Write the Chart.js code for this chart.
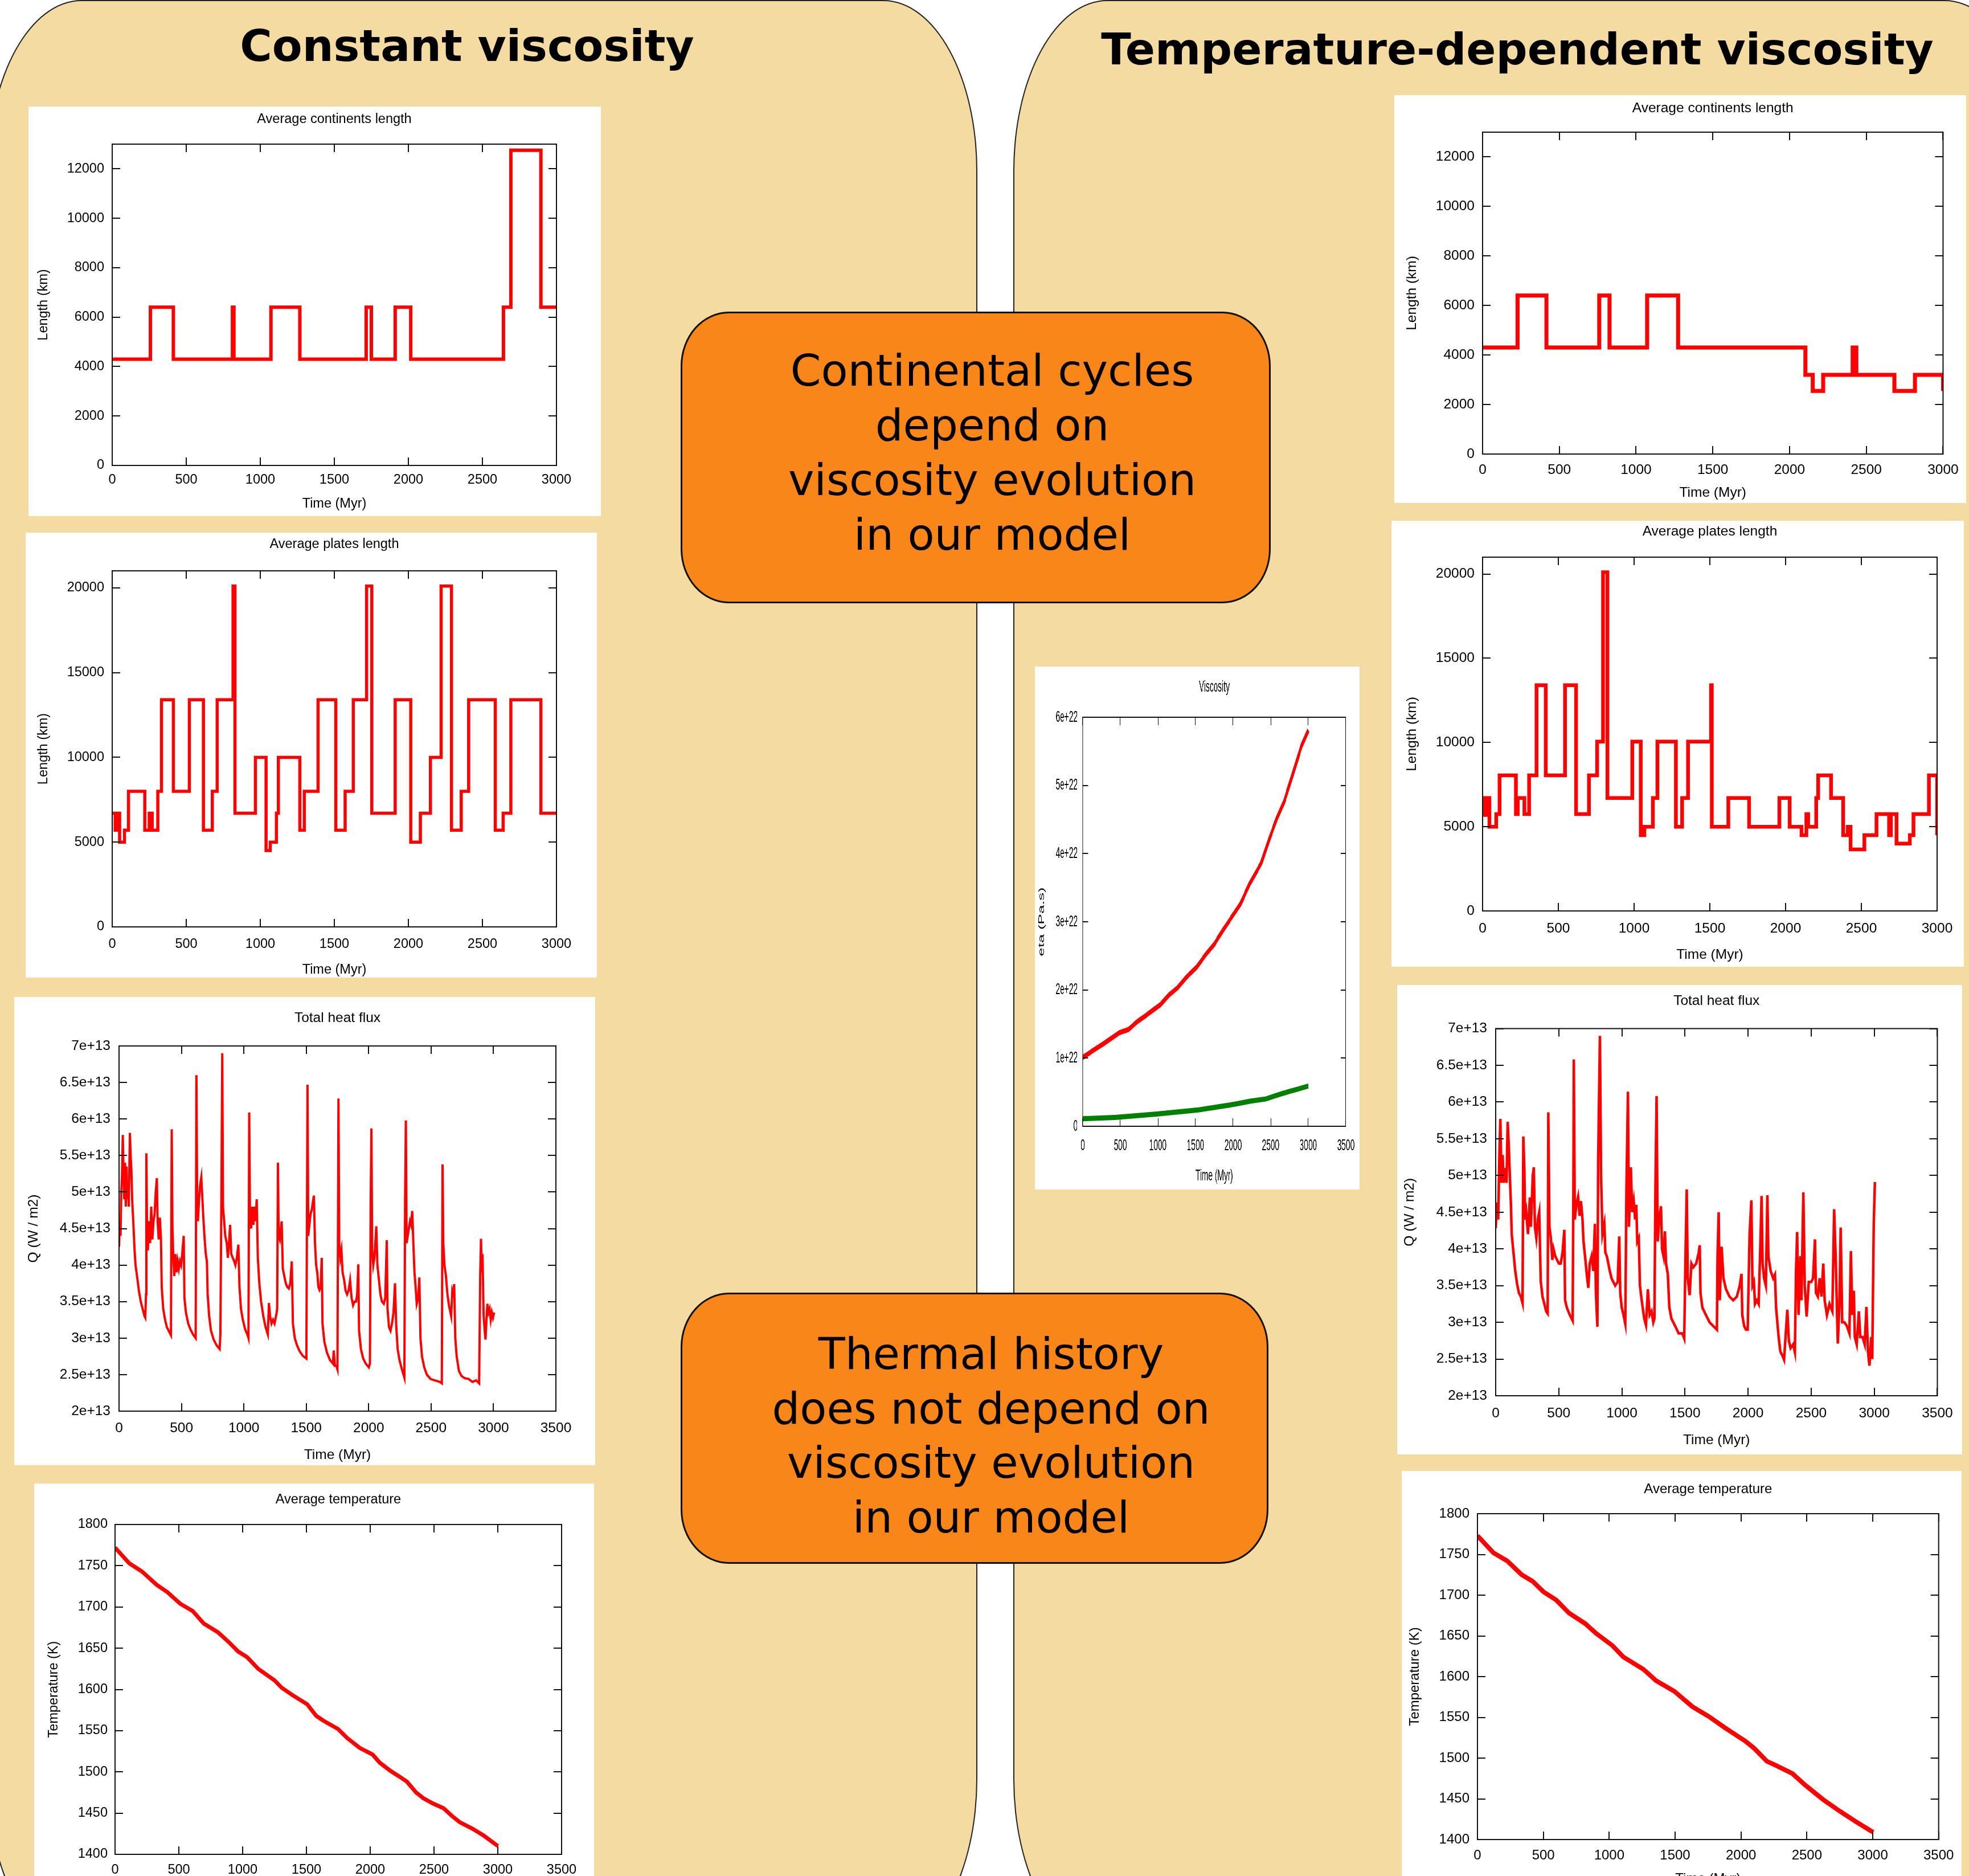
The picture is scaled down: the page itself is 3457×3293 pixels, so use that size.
<!DOCTYPE html>
<html><head><meta charset="utf-8">
<script src="https://cdn.jsdelivr.net/npm/chart.js@4.4.1/dist/chart.umd.min.js"></script>
<style>
html,body{margin:0;padding:0;background:#fff;}
body{width:3457px;height:3293px;overflow:hidden;position:relative;}
.panel{position:absolute;background:#f3dba2;border:2px solid #222;border-radius:165px/300px;box-sizing:border-box;}
.head{position:absolute;font-family:'DejaVu Sans',sans-serif;font-weight:bold;font-size:77px;line-height:77px;text-align:center;color:#000;white-space:nowrap;}
.box{position:absolute;background:#f98619;border:3px solid #111;border-radius:85px/95px;box-sizing:border-box;}
.boxtext{position:absolute;font-family:'DejaVu Sans',sans-serif;font-size:77px;line-height:96px;text-align:center;color:#000;white-space:nowrap;}
.cw{position:absolute;background:#fff;transform-origin:0 0;}
</style></head><body>
<div class="panel" style="left:-22px;top:0;width:1738px;height:3423px;"></div>
<div class="panel" style="left:1779px;top:0;width:1800px;height:3423px;"></div>
<div class="head" style="left:0;top:42px;width:1640px;">Constant viscosity</div>
<div class="head" style="left:1764px;top:48px;width:1800px;">Temperature-dependent viscosity</div>
<script>
// ---------------- DATA ----------------
const xTicks3000 = [0, 500, 1000, 1500, 2000, 2500, 3000];
const xLabels3000 = ['0', '500', '1000', '1500', '2000', '2500', '3000'];
const xTicks3500 = [0, 500, 1000, 1500, 2000, 2500, 3000, 3500];
const xLabels3500 = ['0', '500', '1000', '1500', '2000', '2500', '3000', '3500'];

const contTicks = [0, 2000, 4000, 6000, 8000, 10000, 12000];
const contLabels = ['0', '2000', '4000', '6000', '8000', '10000', '12000'];
const plateTicks = [0, 5000, 10000, 15000, 20000];
const plateLabels = ['0', '5000', '10000', '15000', '20000'];
const heatTicks = [2e13, 2.5e13, 3e13, 3.5e13, 4e13, 4.5e13, 5e13, 5.5e13, 6e13, 6.5e13, 7e13];
const heatLabels = ['2e+13', '2.5e+13', '3e+13', '3.5e+13', '4e+13', '4.5e+13', '5e+13', '5.5e+13', '6e+13', '6.5e+13', '7e+13'];
const tempTicks = [1400, 1450, 1500, 1550, 1600, 1650, 1700, 1750, 1800];
const tempLabels = ['1400', '1450', '1500', '1550', '1600', '1650', '1700', '1750', '1800'];
const viscTicks = [0, 1e22, 2e22, 3e22, 4e22, 5e22, 6e22];
const viscLabels = ['0', '1e+22', '2e+22', '3e+22', '4e+22', '5e+22', '6e+22'];

// Constant viscosity: average continents length (value starts at time t)
const contL_t = [0, 258, 413, 812, 822, 1072, 1267, 1715, 1750, 1911, 2016, 2642, 2692, 2895, 3000];
const contL_v = [4300, 6400, 4300, 6400, 4300, 6400, 4300, 6400, 4300, 6400, 4300, 6400, 12750, 6400, 6400];

// Constant viscosity: average plates length
const platesL_t = [0, 20, 35, 50, 83, 110, 220, 250, 270, 308, 333, 413, 521, 616, 676, 709, 816, 829, 967, 1039, 1067, 1109, 1122, 1267, 1297, 1390, 1510, 1573, 1628, 1718, 1753, 1911, 2016, 2081, 2149, 2221, 2291, 2357, 2407, 2587, 2640, 2692, 2895, 3000];
const platesL_v = [6700, 5700, 6700, 5000, 5700, 8000, 5700, 6700, 5700, 8000, 13400, 8000, 13400, 5700, 8000, 13400, 20100, 6700, 10000, 4500, 5000, 6700, 10000, 5700, 8000, 13400, 5700, 8000, 13400, 20100, 6700, 13400, 5000, 6700, 10000, 20100, 5700, 8000, 13400, 5700, 6700, 13400, 6700, 6700];

// Constant viscosity: total heat flux [time Myr, Q in 1e13 W/m2]
const heatL = [[0,4.25],[6,4.6],[12,4.4],[18,5.0],[24,5.25],[30,5.78],[36,5.3],[42,4.9],[48,5.4],[54,4.8],[60,5.35],[66,4.9],[72,5.1],[78,4.8],[87,5.81],[93,5.5],[99,5.3],[105,4.9],[114,4.6],[123,4.25],[132,4.0],[144,3.85],[159,3.65],[174,3.5],[189,3.4],[204,3.3],[210,3.28],[216,3.6],[219,5.53],[225,4.4],[231,4.2],[240,4.6],[249,4.3],[258,4.8],[267,4.35],[276,4.6],[285,4.7],[294,5.0],[303,5.19],[309,4.6],[318,4.35],[327,4.65],[336,4.35],[342,3.7],[354,3.4],[369,3.25],[383,3.15],[398,3.1],[416,3.04],[422,5.86],[428,4.5],[434,4.15],[443,3.85],[452,4.15],[461,3.9],[470,4.05],[479,3.95],[488,4.05],[497,4.0],[506,4.15],[518,4.4],[524,3.55],[536,3.35],[554,3.2],[572,3.12],[593,3.05],[614,3.0],[620,6.6],[626,4.9],[632,4.6],[641,4.9],[650,5.1],[659,5.2],[668,4.9],[677,4.6],[686,4.35],[695,4.15],[704,4.05],[710,3.6],[722,3.3],[737,3.1],[758,2.98],[782,2.9],[806,2.85],[812,3.05],[821,5.15],[827,6.9],[833,4.8],[842,4.6],[851,4.4],[863,4.3],[872,4.1],[881,4.3],[890,4.55],[899,4.15],[911,4.1],[923,4.05],[932,4.0],[944,4.1],[956,4.28],[965,3.7],[977,3.4],[992,3.25],[1010,3.12],[1028,3.05],[1037,3.0],[1043,6.09],[1049,4.7],[1058,4.5],[1067,4.8],[1076,4.55],[1085,4.8],[1094,4.6],[1103,4.9],[1112,4.1],[1124,3.75],[1138,3.5],[1156,3.3],[1174,3.15],[1192,3.05],[1201,3.48],[1210,3.3],[1222,3.2],[1234,3.25],[1246,3.2],[1261,3.33],[1267,3.4],[1273,5.4],[1279,4.4],[1288,4.35],[1297,4.5],[1303,4.6],[1312,3.95],[1324,3.85],[1336,3.75],[1348,3.7],[1360,3.68],[1372,3.75],[1384,4.05],[1393,3.2],[1408,3.0],[1426,2.9],[1447,2.82],[1471,2.76],[1501,2.72],[1510,6.47],[1516,4.4],[1525,4.55],[1534,4.7],[1543,4.75],[1552,4.85],[1561,4.95],[1570,4.3],[1579,4.0],[1588,3.9],[1597,3.7],[1606,3.66],[1615,3.7],[1624,4.1],[1630,3.2],[1645,2.95],[1666,2.8],[1690,2.7],[1714,2.65],[1720,2.83],[1729,2.62],[1741,2.62],[1750,2.57],[1758,6.28],[1764,4.3],[1773,4.1],[1782,4.2],[1791,3.9],[1803,3.8],[1815,3.65],[1827,3.6],[1839,3.65],[1851,3.79],[1863,3.55],[1875,3.45],[1887,3.5],[1899,3.5],[1908,3.6],[1917,4.01],[1923,3.1],[1938,2.85],[1956,2.72],[1977,2.65],[2001,2.6],[2010,2.65],[2016,4.8],[2022,5.87],[2028,4.2],[2037,4.0],[2046,4.1],[2055,4.35],[2061,4.53],[2070,4.0],[2082,3.8],[2094,3.6],[2106,3.5],[2121,3.47],[2133,3.55],[2145,4.34],[2151,3.4],[2163,3.15],[2175,3.1],[2187,3.2],[2199,3.35],[2211,3.75],[2220,3.2],[2232,2.85],[2247,2.7],[2265,2.58],[2286,2.46],[2292,4.9],[2298,5.98],[2304,4.3],[2313,4.4],[2322,4.5],[2331,4.6],[2340,4.55],[2349,4.74],[2358,4.3],[2367,3.9],[2376,3.7],[2385,3.47],[2397,3.55],[2406,3.83],[2415,3.0],[2427,2.75],[2445,2.6],[2466,2.5],[2496,2.44],[2532,2.42],[2571,2.4],[2586,2.38],[2592,5.38],[2598,4.3],[2607,4.0],[2619,3.85],[2631,3.6],[2643,3.45],[2655,3.35],[2661,3.3],[2670,3.65],[2679,3.6],[2685,3.74],[2694,3.0],[2705,2.75],[2723,2.55],[2744,2.48],[2771,2.45],[2801,2.44],[2831,2.4],[2861,2.42],[2885,2.38],[2894,3.9],[2900,4.36],[2906,3.9],[2912,4.15],[2921,3.3],[2930,3.1],[2936,2.98],[2945,3.3],[2951,3.47],[2960,3.35],[2969,3.4],[2978,3.25],[2987,3.35],[2996,3.28],[3005,3.35]];

// Constant viscosity: average temperature
const tempL_t = [0, 111, 211, 325, 410, 510, 609, 695, 809, 894, 965, 1036, 1122, 1250, 1307, 1392, 1506, 1577, 1634, 1748, 1820, 1919, 2019, 2076, 2161, 2232, 2289, 2360, 2417, 2488, 2574, 2645, 2702, 2802, 2887, 3001];
const tempL_v = [1772, 1753, 1743, 1727, 1718, 1704, 1695, 1680, 1669, 1657, 1646, 1639, 1625, 1611, 1602, 1593, 1582, 1568, 1562, 1552, 1541, 1529, 1521, 1511, 1501, 1494, 1488, 1475, 1468, 1462, 1456, 1446, 1439, 1431, 1423, 1410];

// Viscosity (in 1e22 Pa.s)
const viscRed_t = [0, 148, 315, 482, 607, 732, 858, 1039, 1150, 1261, 1373, 1512, 1637, 1749, 1874, 2013, 2097, 2222, 2375, 2487, 2584, 2682, 2793, 2904, 3002];
const viscRed_v = [1.01, 1.12, 1.24, 1.37, 1.42, 1.54, 1.64, 1.79, 1.93, 2.03, 2.18, 2.33, 2.52, 2.67, 2.89, 3.12, 3.26, 3.56, 3.86, 4.23, 4.52, 4.77, 5.16, 5.56, 5.81];
const viscGreen_t = [0, 426, 983, 1540, 2000, 2236, 2431, 2654, 3002];
const viscGreen_v = [0.11, 0.13, 0.18, 0.24, 0.32, 0.37, 0.40, 0.48, 0.59];

// Temperature-dependent viscosity: continents length
const contR_t = [0, 228, 416, 760, 827, 1072, 1274, 2103, 2151, 2219, 2411, 2435, 2683, 2817, 3000];
const contR_v = [4300, 6400, 4300, 6400, 4300, 6400, 4300, 3200, 2550, 3200, 4300, 3200, 2550, 3200, 2550];

// Temperature-dependent viscosity: plates length
const platesR_t = [0, 10, 22, 45, 90, 112, 220, 232, 276, 307, 356, 417, 544, 617, 702, 756, 795, 824, 988, 1044, 1068, 1124, 1154, 1276, 1317, 1356, 1508, 1513, 1622, 1759, 1959, 2027, 2105, 2137, 2149, 2202, 2215, 2300, 2380, 2410, 2429, 2520, 2600, 2683, 2695, 2732, 2820, 2844, 2946, 3000];
const platesR_v = [6700, 5700, 6700, 5000, 5750, 8050, 5750, 6700, 5750, 8050, 13400, 8050, 13400, 5750, 8050, 10050, 20100, 6700, 10050, 4500, 5000, 6700, 10050, 5000, 6700, 10050, 13400, 5000, 6700, 5000, 6700, 5000, 4500, 5750, 5000, 6700, 8050, 6700, 4500, 5000, 3650, 4500, 5750, 4500, 5750, 4000, 4500, 5750, 8050, 4500];

// Temperature-dependent viscosity: total heat flux [time Myr, Q in 1e13 W/m2]
const heatR = [[0,4.28],[6,4.5],[12,4.63],[20,4.4],[29,5.26],[37,5.77],[46,4.9],[55,5.28],[63,4.9],[75,5.1],[86,4.9],[95,5.73],[104,5.4],[112,5.0],[121,4.6],[127,4.2],[141,3.95],[155,3.7],[170,3.52],[184,3.4],[199,3.35],[213,3.26],[219,5.53],[227,5.1],[233,4.4],[242,4.5],[256,4.2],[271,4.7],[279,4.3],[294,5.0],[302,5.11],[311,4.3],[322,4.15],[334,4.4],[345,4.5],[357,3.56],[371,3.35],[386,3.25],[400,3.15],[412,3.12],[417,5.86],[426,4.3],[437,4.15],[449,3.85],[458,4.0],[472,3.9],[486,3.85],[501,3.8],[515,3.8],[530,3.95],[544,4.26],[550,3.3],[564,3.2],[587,3.1],[610,3.02],[616,4.91],[619,6.58],[627,4.4],[639,4.6],[653,4.71],[665,4.45],[676,4.65],[688,4.4],[696,4.1],[708,3.9],[725,3.6],[734,3.47],[745,3.8],[760,3.9],[774,3.7],[786,4.34],[794,3.4],[806,2.94],[812,5.2],[826,6.9],[835,5.0],[846,4.2],[861,4.34],[869,3.95],[881,3.9],[904,3.7],[918,3.6],[932,3.55],[947,3.5],[967,3.55],[979,4.17],[987,3.4],[999,3.2],[1013,3.1],[1027,2.98],[1036,4.8],[1048,6.14],[1056,4.3],[1071,5.11],[1082,4.5],[1094,4.65],[1105,4.4],[1114,4.6],[1122,4.1],[1134,4.15],[1143,3.5],[1157,3.3],[1177,3.05],[1191,2.96],[1206,3.45],[1220,3.1],[1235,3.15],[1249,3.0],[1258,3.05],[1266,4.85],[1275,6.08],[1284,4.1],[1295,4.4],[1310,4.58],[1318,4.0],[1330,3.9],[1341,4.24],[1350,3.8],[1364,3.66],[1376,3.2],[1393,3.05],[1422,2.95],[1450,2.85],[1479,2.85],[1494,2.78],[1505,4.0],[1514,4.81],[1522,3.6],[1537,3.37],[1551,3.8],[1566,3.75],[1589,3.8],[1609,3.95],[1617,4.05],[1623,3.4],[1638,3.2],[1666,3.1],[1695,3.0],[1724,2.95],[1753,2.9],[1758,3.9],[1767,4.5],[1776,3.3],[1790,4.03],[1805,3.6],[1825,3.45],[1853,3.35],[1882,3.3],[1911,3.35],[1934,3.5],[1948,3.66],[1954,3.1],[1969,2.95],[1983,2.9],[1997,2.9],[2012,4.2],[2026,4.66],[2035,3.5],[2046,3.55],[2055,3.25],[2069,3.3],[2084,3.25],[2098,4.1],[2107,4.72],[2115,3.8],[2127,3.6],[2141,3.5],[2153,4.73],[2161,3.9],[2179,3.7],[2199,3.6],[2213,3.65],[2222,3.2],[2242,2.8],[2256,2.6],[2271,2.55],[2285,2.49],[2297,2.8],[2311,3.17],[2323,2.75],[2337,2.65],[2357,2.7],[2371,2.59],[2380,3.7],[2389,4.23],[2400,3.1],[2415,3.9],[2423,3.3],[2438,4.77],[2449,3.5],[2464,3.08],[2481,3.55],[2501,3.55],[2515,3.6],[2530,4.13],[2538,3.4],[2553,3.35],[2567,3.6],[2582,3.35],[2596,3.8],[2607,3.3],[2625,3.1],[2645,3.25],[2668,3.15],[2682,4.54],[2694,3.9],[2711,2.71],[2723,3.2],[2734,4.29],[2746,3.0],[2763,3.0],[2783,2.95],[2803,2.85],[2815,3.97],[2826,3.1],[2838,3.43],[2846,2.8],[2861,2.7],[2878,3.15],[2889,2.8],[2907,2.8],[2924,2.7],[2938,3.21],[2950,2.6],[2962,2.41],[2976,2.8],[2984,2.5],[2996,4.34],[3005,4.91]];

// Temperature-dependent viscosity: average temperature
const tempR_t = [0, 121, 226, 336, 419, 502, 598, 695, 818, 901, 1025, 1108, 1259, 1356, 1494, 1632, 1756, 1880, 2031, 2100, 2197, 2265, 2390, 2486, 2624, 2748, 2872, 2982, 3004];
const tempR_v = [1773, 1752, 1742, 1725, 1717, 1704, 1694, 1678, 1665, 1653, 1638, 1624, 1609, 1595, 1582, 1563, 1551, 1537, 1521, 1512, 1496, 1491, 1481, 1467, 1449, 1435, 1422, 1411, 1409];

// ---------------- RENDERING ----------------
const FONT = "'Liberation Sans', Arial, sans-serif";
const pts = (t, v, k = 1) => t.map((x, i) => ({x: x, y: v[i] * k}));
const pairPts = (p, k = 1) => p.map(a => ({x: a[0], y: a[1] * k}));

function ds(data, color, width, stepped) {
  return {data, borderColor: color, borderWidth: width, pointRadius: 0, fill: false,
          tension: 0, stepped: !!stepped, borderJoinStyle: 'miter', borderCapStyle: 'butt'};
}

function makeChart(s) {
  const sx = s.sx || 1;
  const [bx, by, bw, bh] = s.box;
  const [px0, py0, px1, py1] = s.plot;
  const W = Math.round(bw / sx), H = Math.round(bh);
  const wrap = document.createElement('div');
  wrap.className = 'cw';
  wrap.style.cssText = `left:${bx}px;top:${by}px;width:${W}px;height:${H}px;` + (sx !== 1 ? `transform:scaleX(${sx});` : '');
  const cv = document.createElement('canvas');
  cv.width = W; cv.height = H;
  wrap.appendChild(cv);
  document.body.appendChild(wrap);
  const fs = s.fs, lh = fs * 1.2;
  const font = {family: FONT, size: fs};
  const tTop = (s.titleY - by) - lh / 2;
  const tBot = (py0 - by) - tTop - lh;
  const yW = (px0 - bx) / sx;
  const rPad = (bx + bw - px1) / sx;
  const xH = (by + bh) - py1;
  const xPad = (s.xTickY - py1) - lh / 2;
  const xTitlePad = (by + bh - s.xTitleY) - lh / 2;
  const yTitlePad = (s.yTitleX - bx) / sx - lh / 2;
  const yPad = (px0 - s.yTickR) / sx;
  const tk = s.tick || 14, tkY = s.tickY || tk;
  const frame = {
    id: 'frame',
    afterDatasetsDraw(chart) {
      const {ctx, chartArea: a} = chart;
      const xs = chart.scales.x, ys = chart.scales.y;
      ctx.save();
      ctx.strokeStyle = '#111';
      ctx.lineWidth = 2;
      ctx.beginPath();
      xs.ticks.forEach(t => {
        const p = Math.round(xs.getPixelForValue(t.value));
        ctx.moveTo(p, a.bottom); ctx.lineTo(p, a.bottom - tk);
        ctx.moveTo(p, a.top); ctx.lineTo(p, a.top + tk);
      });
      ys.ticks.forEach(t => {
        const p = Math.round(ys.getPixelForValue(t.value));
        ctx.moveTo(a.left, p); ctx.lineTo(a.left + tkY, p);
        ctx.moveTo(a.right, p); ctx.lineTo(a.right - tkY, p);
      });
      ctx.stroke();
      ctx.strokeRect(a.left, a.top, a.right - a.left, a.bottom - a.top);
      ctx.restore();
    }
  };
  return new Chart(cv, {
    type: 'line',
    data: {datasets: s.datasets},
    options: {
      responsive: false, animation: false, devicePixelRatio: 1,
      layout: {padding: {left: 0, top: 0, bottom: 0, right: rPad}},
      plugins: {
        legend: {display: false}, tooltip: {enabled: false},
        title: {display: true, text: s.title, fullSize: false, color: '#000',
                font: {family: FONT, size: fs, weight: 'normal'}, padding: {top: tTop, bottom: tBot}}
      },
      scales: {
        x: {
          type: 'linear', min: s.xMin, max: s.xMax,
          afterBuildTicks: sc => { sc.ticks = s.xTicks.map(v => ({value: v})); },
          afterFit: sc => { sc.height = xH; },
          ticks: {font, color: '#000', padding: xPad, maxRotation: 0, minRotation: 0, autoSkip: false,
                  callback: (v, i) => s.xLabels[i]},
          grid: {display: false, drawTicks: false}, border: {display: false},
          title: {display: true, text: s.xTitle, color: '#000', font, padding: {top: 0, bottom: xTitlePad}}
        },
        y: {
          type: 'linear', min: s.yMin, max: s.yMax,
          afterBuildTicks: sc => { sc.ticks = s.yTicks.map(v => ({value: v})); },
          afterFit: sc => { sc.width = yW; },
          ticks: {font, color: '#000', padding: yPad, autoSkip: false, callback: (v, i) => s.yLabels[i]},
          grid: {display: false, drawTicks: false}, border: {display: false},
          title: {display: true, text: s.yTitle, color: '#000', font, padding: {top: yTitlePad, bottom: 0}}
        }
      }
    },
    plugins: [frame]
  });
}

const RED = '#ff0000', GREEN = '#008000';

// Left column
makeChart({box: [50, 187, 1005, 719], plot: [197, 253, 977, 817], fs: 23.5,
  titleY: 210, xTickY: 843, xTitleY: 885, yTitleX: 77, yTickR: 183,
  title: 'Average continents length', xTitle: 'Time (Myr)', yTitle: 'Length (km)',
  xMin: 0, xMax: 3000, xTicks: xTicks3000, xLabels: xLabels3000,
  yMin: 0, yMax: 13000, yTicks: contTicks, yLabels: contLabels,
  datasets: [ds(pts(contL_t, contL_v), RED, 6, true)]});

makeChart({box: [45, 935, 1003, 781], plot: [197, 1002, 977, 1627], fs: 23.5,
  titleY: 956, xTickY: 1658, xTitleY: 1703, yTitleX: 77, yTickR: 183,
  title: 'Average plates length', xTitle: 'Time (Myr)', yTitle: 'Length (km)',
  xMin: 0, xMax: 3000, xTicks: xTicks3000, xLabels: xLabels3000,
  yMin: 0, yMax: 21000, yTicks: plateTicks, yLabels: plateLabels,
  datasets: [ds(pts(platesL_t, platesL_v), RED, 5.5, true)]});

makeChart({box: [25, 1750, 1020, 822], plot: [209, 1836, 976, 2477], fs: 24.5,
  titleY: 1787, xTickY: 2507, xTitleY: 2554, yTitleX: 59, yTickR: 194,
  title: 'Total heat flux', xTitle: 'Time (Myr)', yTitle: 'Q (W / m2)',
  xMin: 0, xMax: 3500, xTicks: xTicks3500, xLabels: xLabels3500,
  yMin: 2e13, yMax: 7e13, yTicks: heatTicks, yLabels: heatLabels,
  datasets: [ds(pairPts(heatL, 1e13), RED, 4, false)]});

makeChart({box: [60, 2604, 983, 744], plot: [202, 2676, 986, 3255], fs: 23.5,
  titleY: 2633, xTickY: 3283, xTitleY: 3330, yTitleX: 94.5, yTickR: 189,
  title: 'Average temperature', xTitle: 'Time (Myr)', yTitle: 'Temperature (K)',
  xMin: 0, xMax: 3500, xTicks: xTicks3500, xLabels: xLabels3500,
  yMin: 1400, yMax: 1800, yTicks: tempTicks, yLabels: tempLabels,
  datasets: [ds(pts(tempL_t, tempL_v), RED, 7, false)]});

// Middle: viscosity (horizontally squeezed image)
makeChart({box: [1817, 1170, 570, 918], plot: [1901, 1259, 2366, 1977], fs: 28, sx: 0.49,
  tick: 14, tickY: 19,
  titleY: 1206, xTickY: 2011.6, xTitleY: 2064.7, yTitleX: 1829, yTickR: 1892,
  title: 'Viscosity', xTitle: 'Time (Myr)', yTitle: 'eta (Pa.s)',
  xMin: 0, xMax: 3500, xTicks: xTicks3500, xLabels: xLabels3500,
  yMin: 0, yMax: 6e22, yTicks: viscTicks, yLabels: viscLabels,
  datasets: [ds(pts(viscRed_t, viscRed_v, 1e22), RED, 9, false),
             ds(pts(viscGreen_t, viscGreen_v, 1e22), GREEN, 9, false)]});

// Right column
makeChart({box: [2448, 167, 1004, 716], plot: [2603, 232, 3413, 797], fs: 24.5,
  titleY: 190, xTickY: 825, xTitleY: 865, yTitleX: 2479, yTickR: 2589,
  title: 'Average continents length', xTitle: 'Time (Myr)', yTitle: 'Length (km)',
  xMin: 0, xMax: 3000, xTicks: xTicks3000, xLabels: xLabels3000,
  yMin: 0, yMax: 13000, yTicks: contTicks, yLabels: contLabels,
  datasets: [ds(pts(contR_t, contR_v), RED, 7, true)]});

makeChart({box: [2443, 914, 1005, 783], plot: [2603, 978, 3401, 1599], fs: 24.5,
  titleY: 933, xTickY: 1630, xTitleY: 1676, yTitleX: 2479, yTickR: 2589,
  title: 'Average plates length', xTitle: 'Time (Myr)', yTitle: 'Length (km)',
  xMin: 0, xMax: 3000, xTicks: xTicks3000, xLabels: xLabels3000,
  yMin: 0, yMax: 21000, yTicks: plateTicks, yLabels: plateLabels,
  datasets: [ds(pts(platesR_t, platesR_v), RED, 6.5, true)]});

makeChart({box: [2453, 1729, 992, 824], plot: [2626, 1805.5, 3401.5, 2450], fs: 24.5,
  titleY: 1757, xTickY: 2481, xTitleY: 2528.6, yTitleX: 2475.5, yTickR: 2611,
  title: 'Total heat flux', xTitle: 'Time (Myr)', yTitle: 'Q (W / m2)',
  xMin: 0, xMax: 3500, xTicks: xTicks3500, xLabels: xLabels3500,
  yMin: 2e13, yMax: 7e13, yTicks: heatTicks, yLabels: heatLabels,
  datasets: [ds(pairPts(heatR, 1e13), RED, 4.5, false)]});

makeChart({box: [2461, 2582, 983, 740], plot: [2594, 2657, 3406, 3229], fs: 24,
  titleY: 2614, xTickY: 3257, xTitleY: 3298, yTitleX: 2484, yTickR: 2580,
  title: 'Average temperature', xTitle: 'Time (Myr)', yTitle: 'Temperature (K)',
  xMin: 0, xMax: 3500, xTicks: xTicks3500, xLabels: xLabels3500,
  yMin: 1400, yMax: 1800, yTicks: tempTicks, yLabels: tempLabels,
  datasets: [ds(pts(tempR_t, tempR_v), RED, 8, false)]});
</script>
<div class="box" style="left:1195px;top:547px;width:1036px;height:512px;"></div>
<div class="boxtext" style="left:1042px;top:603px;width:1400px;">Continental cycles<br>depend on<br>viscosity evolution<br>in our model</div>
<div class="box" style="left:1195px;top:2269px;width:1032px;height:476px;"></div>
<div class="boxtext" style="left:1040px;top:2329px;width:1400px;line-height:95.5px;">Thermal history<br>does not depend on<br>viscosity evolution<br>in our model</div>
</body></html>
